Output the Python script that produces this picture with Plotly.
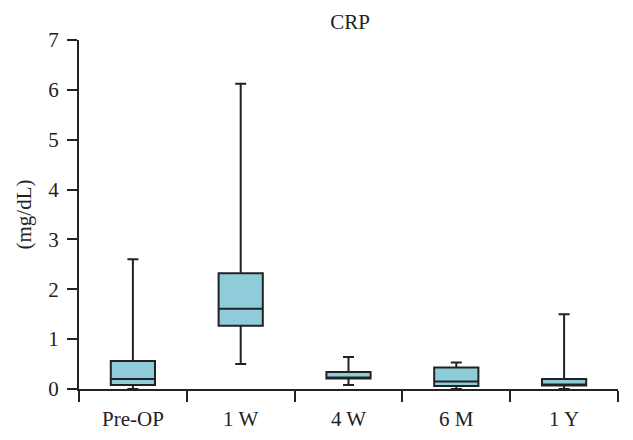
import plotly.graph_objects as go

categories = ["Pre-OP", "1 W", "4 W", "6 M", "1 Y"]
lower_whisker = [0.0, 0.50, 0.08, 0.0, 0.0]
q1 = [0.08, 1.27, 0.21, 0.06, 0.07]
median = [0.20, 1.61, 0.22, 0.15, 0.08]
q3 = [0.56, 2.32, 0.34, 0.43, 0.20]
upper_whisker = [2.60, 6.12, 0.64, 0.53, 1.50]
y_ticks = [0, 1, 2, 3, 4, 5, 6, 7]

FONT = "Liberation Serif"
INK = "#222222"

fig = go.Figure()
fig.add_trace(go.Box(
    x=categories,
    q1=q1, median=median, q3=q3,
    lowerfence=lower_whisker, upperfence=upper_whisker,
    fillcolor="#8ECCDA",
    line=dict(color=INK, width=2),
    width=0.41,
    whiskerwidth=0.25,
    boxpoints=False,
    showlegend=False,
    hoverinfo="skip",
))

fig.update_layout(
    width=633, height=440,
    margin=dict(l=79, r=15, t=40, b=51, autoexpand=False),
    paper_bgcolor="white", plot_bgcolor="white",
    font=dict(family=FONT, size=21, color=INK),
    title=dict(text="CRP", x=0.553, xanchor="center", y=0.95, yanchor="middle",
               font=dict(family=FONT, size=21, color=INK)),
)
fig.update_xaxes(
    type="category", range=[-0.5, 4.5], tickson="boundaries", automargin=False,
    ticks="outside", ticklen=11, tickwidth=2, tickcolor=INK,
    showline=True, linecolor=INK, linewidth=2, showgrid=False, zeroline=False,
    tickfont=dict(family=FONT, size=21, color=INK), ticklabelstandoff=10,
)
fig.update_yaxes(
    range=[0, 7], tickvals=y_ticks, ticktext=[str(v) for v in y_ticks], automargin=False,
    ticks="outside", ticklen=10, tickwidth=2, tickcolor=INK,
    showline=True, linecolor=INK, linewidth=2, showgrid=False, zeroline=False,
    tickfont=dict(family=FONT, size=21, color=INK), ticklabelstandoff=4,
    title=dict(text="(mg/dL)", font=dict(family=FONT, size=21, color=INK), standoff=11),
)

fig.write_html("out.html", config={"displayModeBar": False},
               post_script="document.body.style.margin='0px';")
